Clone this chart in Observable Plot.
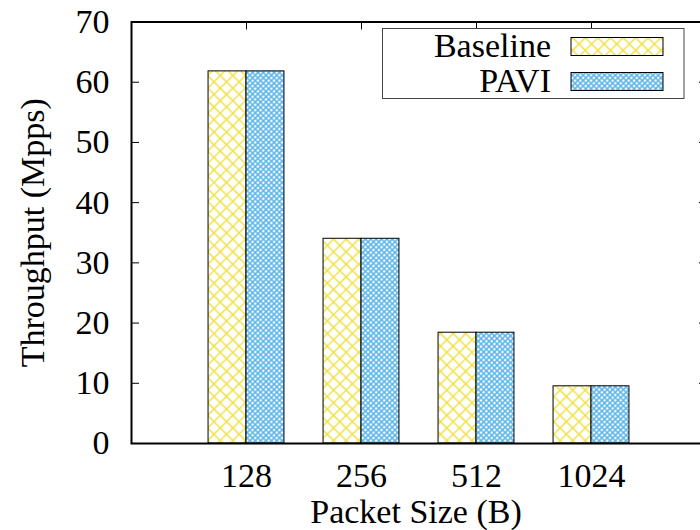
<!DOCTYPE html>
<html><head><meta charset="utf-8">
<script src="https://cdn.jsdelivr.net/npm/d3@7"></script>
<script src="https://cdn.jsdelivr.net/npm/@observablehq/plot@0.6"></script>
<style>
body{margin:0;background:#fff}
#chart{width:700px;height:530px;overflow:hidden;position:relative}
</style>
</head><body><div id="chart"></div>
<script>
// ---- data ----
const categories = ["128", "256", "512", "1024"];
const series = ["Baseline", "PAVI"];
const baselineValues = [61.8, 34.0, 18.4, 9.5];
const paviValues = [61.8, 34.0, 18.4, 9.5];
const yTicks = [0, 10, 20, 30, 40, 50, 60, 70];
const xTitle = "Packet Size (B)";
const yTitle = "Throughput (Mpps)";

const rows = [];
categories.forEach((c, i) => {
  rows.push({cat: c, i, series: series[0], value: baselineValues[i]});
  rows.push({cat: c, i, series: series[1], value: paviValues[i]});
});
const barW = 0.33;
const FONT = "Liberation Serif";
const FS = 34;

const plot = Plot.plot({
  width: 700,
  height: 530,
  marginLeft: 131,
  marginRight: -6,
  marginTop: 21.5,
  marginBottom: 87,
  style: {fontFamily: FONT, fontSize: FS + "px", background: "white", overflow: "hidden"},
  x: {type: "linear", domain: [-1, 4]},
  y: {domain: [0, 70]},
  marks: [
    Plot.rectY(rows.filter(d => d.series === series[0]), {
      x1: d => d.i - barW, x2: d => d.i, y: "value",
      fill: "url(#patBase)", stroke: "black", strokeWidth: 1
    }),
    Plot.rectY(rows.filter(d => d.series === series[1]), {
      x1: d => d.i, x2: d => d.i + barW, y: "value",
      fill: "url(#patPavi)", stroke: "black", strokeWidth: 1
    }),
    Plot.axisY(yTicks, {anchor: "left", tickSize: 0, tickPadding: 22, label: null, fontSize: FS}),
    Plot.axisY(yTicks, {anchor: "left", tickSize: -8, text: null, label: null}),
    Plot.axisY(yTicks, {anchor: "right", tickSize: -8, text: null, label: null}),
    Plot.axisX([0, 1, 2, 3], {anchor: "bottom", tickSize: 0, tickPadding: 19, label: null,
      tickFormat: i => categories[i], fontSize: FS}),
    Plot.axisX([0, 1, 2, 3], {anchor: "top", tickSize: -7, text: null, label: null}),
    Plot.frame({stroke: "black", strokeWidth: 2}),
    Plot.text([yTitle], {frameAnchor: "left", textAnchor: "middle", lineAnchor: "middle",
      rotate: -90, dx: -98, fontSize: FS, text: d => d}),
    Plot.text([xTitle], {frameAnchor: "bottom", textAnchor: "middle", lineAnchor: "middle",
      dy: 69, dx: -3, fontSize: FS, text: d => d})
  ]
});

const svg = d3.select(plot);
const defs = svg.insert("defs", ":first-child");
function crossPattern(id, spacing, color, sw) {
  const p = defs.append("pattern")
    .attr("id", id).attr("patternUnits", "userSpaceOnUse")
    .attr("width", spacing).attr("height", spacing)
    .attr("patternTransform", "rotate(45)");
  p.append("rect").attr("width", spacing).attr("height", spacing).attr("fill", "white");
  p.append("path")
    .attr("d", `M0,${spacing/2}H${spacing}M${spacing/2},0V${spacing}`)
    .attr("stroke", color).attr("stroke-width", sw).attr("fill", "none");
}
crossPattern("patBase", 8.9, "#f0e040", 1.4);
crossPattern("patPavi", 3.8, "#56b4e9", 1.5);

// legend (inside plot, top right)
const lg = svg.append("g").attr("font-family", FONT).attr("font-size", FS);
lg.append("rect").attr("x", 382.5).attr("y", 28.5).attr("width", 301.5).attr("height", 70)
  .attr("fill", "white").attr("stroke", "#444").attr("stroke-width", 1);
const fills = ["url(#patBase)", "url(#patPavi)"];
series.forEach((s, k) => {
  const top = k === 0 ? 37.5 : 72.5;
  lg.append("text").attr("x", 551).attr("y", top + 19.5).attr("text-anchor", "end").text(s);
  lg.append("rect").attr("x", 571).attr("y", top).attr("width", 92).attr("height", 18)
    .attr("fill", fills[k]).attr("stroke", "black").attr("stroke-width", 1);
});

document.getElementById("chart").appendChild(plot);
</script>
</body></html>
